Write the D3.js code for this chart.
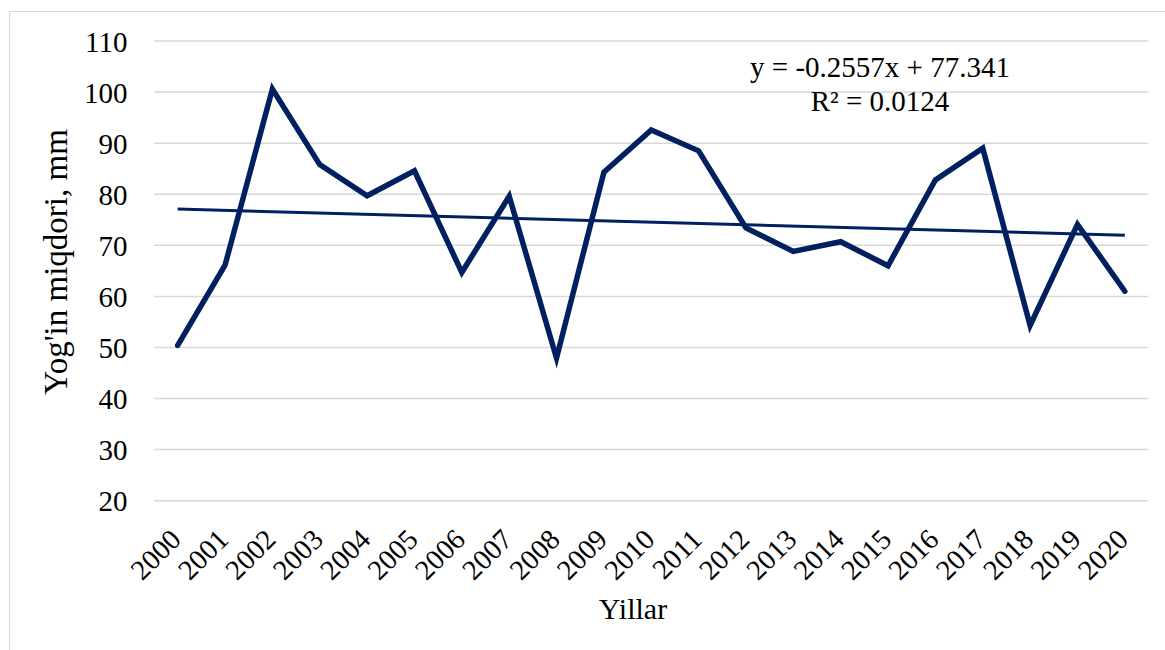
<!DOCTYPE html>
<html>
<head>
<meta charset="utf-8">
<script src="https://cdn.jsdelivr.net/npm/d3@7"></script>
<style>
  html, body { margin: 0; padding: 0; background: #ffffff; }
  svg { display: block; }
</style>
</head>
<body>
<svg id="chart" width="1165" height="650"></svg>
<script>
const years = ["2000","2001","2002","2003","2004","2005","2006","2007","2008","2009","2010",
               "2011","2012","2013","2014","2015","2016","2017","2018","2019","2020"];
const precipitation = [50.4, 66.1, 100.6, 85.8, 79.7, 84.6, 64.7, 79.6, 47.9, 84.3, 92.6,
                       88.5, 73.4, 68.8, 70.7, 66.0, 82.8, 89.0, 54.3, 74.1, 61.0];
const yTicks = [20, 30, 40, 50, 60, 70, 80, 90, 100, 110];
const trendSlope = -0.2557;
const trendIntercept = 77.341;
const equationLines = ["y = -0.2557x + 77.341", "R² = 0.0124"];
const xTitle = "Yillar";
const yTitle = "Yog'in miqdori, mm";

const FONT = "'Liberation Serif', 'Times New Roman', Times, serif";
const svg = d3.select("#chart");

// chart frame
svg.append("rect")
  .attr("x", 9.5).attr("y", 11.5)
  .attr("width", 1165).attr("height", 700)
  .attr("fill", "none").attr("stroke", "#d9d9d9").attr("stroke-width", 1);

const plot = { left: 154, right: 1148.5, top: 41, bottom: 500.7 };

const x = d3.scaleBand().domain(years).range([plot.left, plot.right]).padding(0);
const cx = d => x(d) + x.bandwidth() / 2;
const y = d3.scaleLinear().domain([20, 110]).range([plot.bottom, plot.top]);

// gridlines
svg.append("g")
  .selectAll("line").data(yTicks).join("line")
  .attr("x1", plot.left).attr("x2", plot.right)
  .attr("y1", d => y(d)).attr("y2", d => y(d))
  .attr("stroke", "#d9d9d9").attr("stroke-width", 1.5);

// y axis labels
const yAxis = d3.axisLeft(y).tickValues(yTicks).tickSize(0).tickPadding(0);
const gy = svg.append("g").attr("transform", `translate(127.5,0)`).call(yAxis);
gy.select(".domain").remove();
gy.selectAll("text")
  .style("font-family", FONT).style("font-size", "29px").style("fill", "#000")
  .attr("dy", "0.35em");

// x axis labels
const xAxis = d3.axisBottom(x).tickSize(0).tickPadding(0);
const gx = svg.append("g").attr("transform", `translate(0,${plot.bottom})`).call(xAxis);
gx.select(".domain").remove();
gx.selectAll("text")
  .style("font-family", FONT).style("font-size", "28.5px").style("fill", "#000")
  .attr("text-anchor", "end")
  .attr("dy", null).attr("y", null)
  .attr("transform", "translate(5,40.5) rotate(-45)");

// trend line
const trendData = years.map((yr, i) => ({ yr, v: trendSlope * (i + 1) + trendIntercept }));
const trendEnds = [trendData[0], trendData[trendData.length - 1]];
svg.append("path")
  .datum(trendEnds)
  .attr("d", d3.line().x(d => cx(d.yr)).y(d => y(d.v)))
  .attr("fill", "none").attr("stroke", "#002060").attr("stroke-width", 3);

// data line
svg.append("path")
  .datum(years.map((yr, i) => ({ yr, v: precipitation[i] })))
  .attr("d", d3.line().x(d => cx(d.yr)).y(d => y(d.v)))
  .attr("fill", "none").attr("stroke", "#002060").attr("stroke-width", 5.5)
  .attr("stroke-linejoin", "miter").attr("stroke-linecap", "round");

// equation label
svg.append("g").selectAll("text").data(equationLines).join("text")
  .attr("x", 880).attr("y", (d, i) => 77 + i * 34)
  .attr("text-anchor", "middle")
  .style("font-family", FONT).style("font-size", "29px").style("fill", "#000")
  .text(d => d);

// axis titles
svg.append("text")
  .attr("x", 633).attr("y", 619)
  .attr("text-anchor", "middle")
  .style("font-family", FONT).style("font-size", "30px").style("fill", "#000")
  .text(xTitle);

svg.append("text")
  .attr("transform", "translate(66.5,262) rotate(-90)")
  .attr("text-anchor", "middle")
  .style("font-family", FONT).style("font-size", "33px").style("fill", "#000")
  .text(yTitle);
</script>
</body>
</html>
